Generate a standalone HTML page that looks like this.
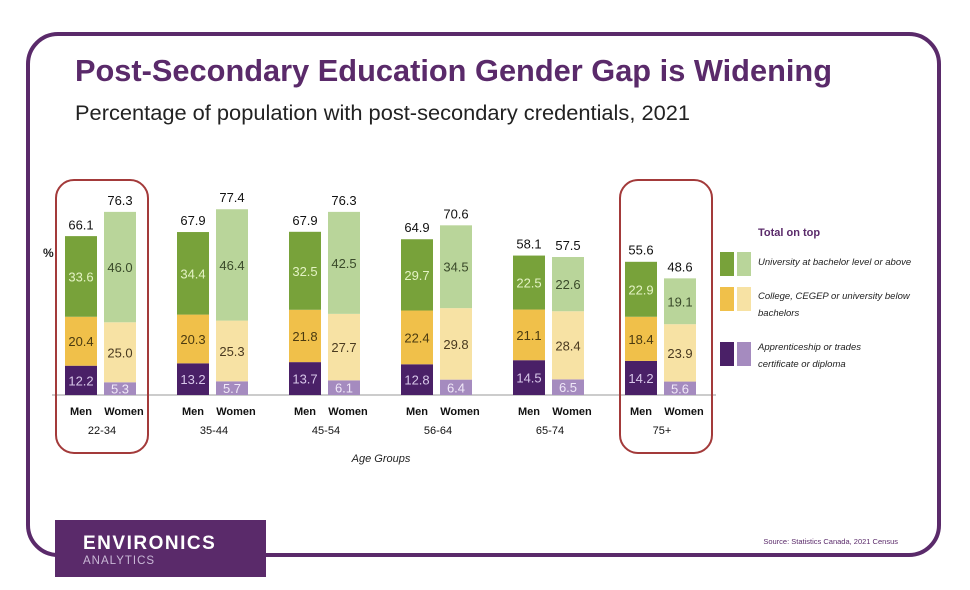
<!DOCTYPE html>
<html><head><meta charset="utf-8"><style>
body{margin:0;background:#fff;width:970px;height:590px;overflow:hidden;font-family:"Liberation Sans",sans-serif}
svg{display:block}
</style></head><body>
<svg width="970" height="590" xmlns="http://www.w3.org/2000/svg">
<rect x="28" y="34" width="911" height="521" rx="30" fill="none" stroke="#5a2a6a" stroke-width="4"/>
<text x="75" y="81" font-size="31" font-weight="bold" fill="#5a2a6a" textLength="757" lengthAdjust="spacingAndGlyphs">Post-Secondary Education Gender Gap is Widening</text>
<text x="75" y="120" font-size="21" fill="#222" textLength="615" lengthAdjust="spacingAndGlyphs">Percentage of population with post-secondary credentials, 2021</text>
<text x="43" y="257" font-size="12" font-weight="bold" fill="#222">%</text>
<line x1="52" y1="395" x2="716" y2="395" stroke="#bbb" stroke-width="1.5"/>
<g id="bars"></g>
<rect x="56" y="180" width="92" height="273" rx="18" fill="none" stroke="#a33a3a" stroke-width="2"/>
<rect x="620" y="180" width="92" height="273" rx="18" fill="none" stroke="#a33a3a" stroke-width="2"/>
<text x="381" y="462" font-size="11" font-style="italic" text-anchor="middle" fill="#222">Age Groups</text>
<g>
<text x="758" y="236" font-size="11" font-weight="bold" fill="#5a2a6a">Total on top</text>
<rect x="720" y="252" width="14" height="24" fill="#78a23a"/>
<rect x="737" y="252" width="14" height="24" fill="#b9d59a"/>
<text x="758" y="265" font-size="9.5" font-style="italic" fill="#222">University at bachelor level or above</text>
<rect x="720" y="287" width="14" height="24" fill="#f0c04a"/>
<rect x="737" y="287" width="14" height="24" fill="#f7e2a4"/>
<text x="758" y="299" font-size="9.5" font-style="italic" fill="#222"><tspan x="758">College, CEGEP or university below</tspan><tspan x="758" dy="17">bachelors</tspan></text>
<rect x="720" y="342" width="14" height="24" fill="#4a2067"/>
<rect x="737" y="342" width="14" height="24" fill="#a58bbf"/>
<text x="758" y="350" font-size="9.5" font-style="italic" fill="#222"><tspan x="758">Apprenticeship or trades</tspan><tspan x="758" dy="17">certificate or diploma</tspan></text>
</g>
<text x="898" y="544" font-size="7.5" text-anchor="end" fill="#5a2a6a">Source: Statistics Canada, 2021 Census</text>
<rect x="55" y="520" width="211" height="57" fill="#5a2a6a"/>
<text x="83" y="549" font-size="19" font-weight="bold" fill="#fff" letter-spacing="1.5">ENVIRONICS</text>
<text x="83" y="564" font-size="11.5" fill="#c9b8d6" letter-spacing="1">ANALYTICS</text>
</svg>
<script>
const groups=["22-34","35-44","45-54","56-64","65-74","75+"];
const menTrades=[12.2,13.2,13.7,12.8,14.5,14.2];
const menCollege=[20.4,20.3,21.8,22.4,21.1,18.4];
const menUni=[33.6,34.4,32.5,29.7,22.5,22.9];
const menTotal=[66.1,67.9,67.9,64.9,58.1,55.6];
const womenTrades=[5.3,5.7,6.1,6.4,6.5,5.6];
const womenCollege=[25.0,25.3,27.7,29.8,28.4,23.9];
const womenUni=[46.0,46.4,42.5,34.5,22.6,19.1];
const womenTotal=[76.3,77.4,76.3,70.6,57.5,48.6];
const NS="http://www.w3.org/2000/svg";
const base=395,k=2.4,bw=32;
const y=v=>base-v*k;
const gx=i=>65+i*112;
const g=document.getElementById('bars');
function el(t,a){const e=document.createElementNS(NS,t);for(const n in a)e.setAttribute(n,a[n]);g.appendChild(e);return e;}
function txt(x,yy,s,opt){const e=el('text',Object.assign({x:x,y:yy,'text-anchor':'middle'},opt));e.textContent=s;return e;}
groups.forEach((gr,i)=>{
  const sets=[
    {x:gx(i),who:'men',vals:[menTrades[i],menCollege[i],menUni[i]],tot:menTotal[i],cols:['#4a2067','#f0c04a','#78a23a'],tc:['#d8c8ea','#4a3a10','#e4f3c4']},
    {x:gx(i)+39,who:'women',vals:[womenTrades[i],womenCollege[i],womenUni[i]],tot:womenTotal[i],cols:['#a58bbf','#f7e2a4','#b9d59a'],tc:['#f0e8f8','#4a3a20','#3a4a2a']}
  ];
  const names=['trades','college','university'];
  sets.forEach(s=>{
    let c=0;
    s.vals.forEach((v,j)=>{
      const r=el('rect',{x:s.x,y:y(c+v),width:bw,height:v*k,fill:s.cols[j]});
      
      
      const t=txt(s.x+bw/2,y(c+v/2)+5,v.toFixed(1),{'font-size':13,fill:s.tc[j]});
      
      
      c+=v;
    });
    const tt=txt(s.x+bw/2,y(s.tot)-7,s.tot.toFixed(1),{'font-size':13,fill:'#111'});
    
    
    const l=txt(s.x+bw/2+(s.who=='women'?4:0),415,s.who=='men'?'Men':'Women',{'font-size':11,'font-weight':'bold',fill:'#111'});
    
    
  });
  const gl=txt(gx(i)+37,434,gr,{'font-size':11,fill:'#111'});
  
  
});
</script>
</body></html>
